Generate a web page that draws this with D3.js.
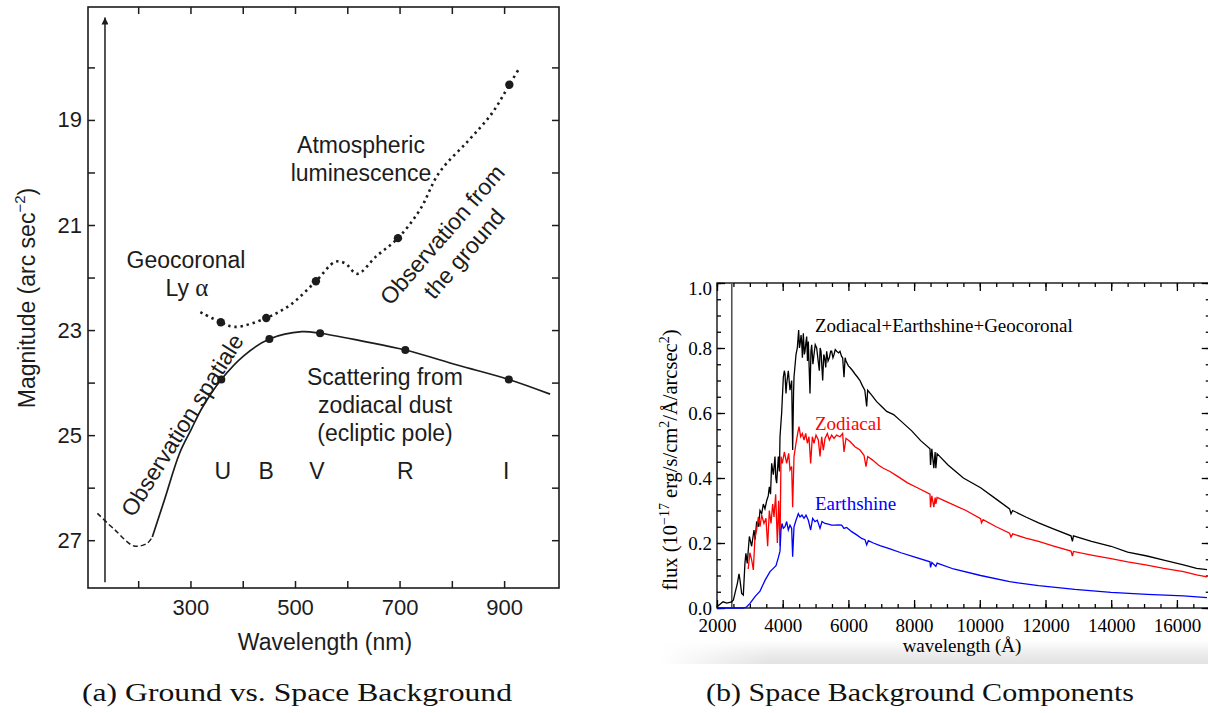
<!DOCTYPE html>
<html>
<head>
<meta charset="utf-8">
<script src="https://cdn.jsdelivr.net/npm/d3@7"></script>
<style>
body { margin: 0; background: #fff; }
svg { display: block; }
</style>
</head>
<body>
<div id="chart"></div>
<script>
const WIDTH = 1208, HEIGHT = 713;
const SANS = "'Liberation Sans', Arial, Helvetica, sans-serif";
const SERIF = "'Liberation Serif', 'Times New Roman', serif";
const INK = '#1c1c1c';
const TOTAL_COLOR = '#000000';
const ZODI_COLOR = '#ff0000';
const EARTH_COLOR = '#0000ff';

// ---- panel (a): ground vs space, wavelength (nm) / magnitude
const uvNm  = [122, 155, 192, 217, 227];
const uvMag = [26.49, 26.8, 27.11, 27.06, 26.94];
const spaceNm  = [227, 250, 279, 301, 323, 359, 403, 451, 513, 548, 629, 711, 812, 909, 988];
const spaceMag = [26.94, 26.24, 25.35, 24.9, 24.47, 23.94, 23.48, 23.17, 23.03, 23.06, 23.21, 23.38, 23.67, 23.94, 24.22];
const groundNm  = [319, 358, 385, 445, 491, 540, 577, 596, 619, 655, 697, 739, 776, 833, 877, 910, 927];
const groundMag = [22.66, 22.85, 22.94, 22.77, 22.52, 22.07, 21.7, 21.73, 21.93, 21.6, 21.25, 20.71, 20.0, 19.38, 18.87, 18.33, 18.05];
const spaceDotNm  = [359, 451, 548, 711, 909];
const spaceDotMag = [23.94, 23.17, 23.06, 23.38, 23.94];
const groundDotNm  = [358, 445, 540, 697, 910];
const groundDotMag = [22.85, 22.77, 22.07, 21.25, 18.33];
const bands = ['U', 'B', 'V', 'R', 'I'];
const bandNm = [362, 445, 542, 711, 904];
const magTicks = [18, 19, 20, 21, 22, 23, 24, 25, 26, 27];
const magLabels = [19, 21, 23, 25, 27];
const nmTicks = [200, 300, 400, 500, 600, 700, 800, 900];
const nmLabels = [300, 500, 700, 900];

// ---- panel (b): space background components, wavelength (A) / flux
const totalWave = [2000, 2100, 2183, 2300, 2447, 2500, 2548, 2620, 2670, 2700, 2751, 2801, 2852, 2880, 2920, 2985, 3055, 3126, 3160, 3207,
  3260, 3309, 3360, 3410, 3460, 3512, 3560, 3593, 3630, 3664, 3715, 3765, 3790, 3816, 3867, 3900, 3918, 3968, 4019, 4050,
  4070, 4100, 4121, 4171, 4222, 4273, 4303, 4330, 4344, 4405, 4445, 4486, 4510, 4527, 4560, 4577, 4600, 4628, 4660, 4679,
  4710, 4730, 4755, 4780, 4831, 4860, 4882, 4920, 4953, 4990, 5034, 5080, 5115, 5140, 5166, 5217, 5250, 5278, 5310, 5338,
  5380, 5420, 5460, 5490, 5530, 5562, 5600, 5643, 5700, 5744, 5790, 5825, 5866, 5900, 5927, 6000, 6049, 6130, 6201, 6280,
  6353, 6420, 6500, 6556, 6587, 6708, 6860, 7012, 7165, 7376, 7600, 7928, 8200, 8484, 8500, 8540, 8600, 8640, 8662, 8700,
  9032, 9500, 10025, 10500, 10907, 10950, 11000, 11400, 11790, 12200, 12776, 12820, 12850, 13400, 13994, 14500, 15090, 15600, 16200, 16600, 16917];
const totalFlux = [0.004, 0.012, 0.019, 0.015, 0.019, 0.025, 0.046, 0.076, 0.105, 0.086, 0.045, 0.04, 0.14, 0.168, 0.137, 0.22, 0.19, 0.24, 0.21, 0.266,
  0.25, 0.30, 0.29, 0.32, 0.305, 0.33, 0.345, 0.373, 0.35, 0.445, 0.41, 0.466, 0.40, 0.384, 0.466, 0.42, 0.527, 0.60, 0.71, 0.73,
  0.72, 0.66, 0.69, 0.73, 0.67, 0.70, 0.486, 0.66, 0.71, 0.78, 0.80, 0.855, 0.80, 0.81, 0.84, 0.82, 0.77, 0.845, 0.78, 0.79,
  0.82, 0.835, 0.76, 0.82, 0.66, 0.79, 0.81, 0.75, 0.78, 0.81, 0.80, 0.76, 0.73, 0.80, 0.79, 0.70, 0.78, 0.77, 0.74, 0.79,
  0.76, 0.77, 0.79, 0.79, 0.77, 0.78, 0.795, 0.79, 0.785, 0.79, 0.775, 0.77, 0.71, 0.77, 0.76, 0.745, 0.74, 0.73, 0.72, 0.71,
  0.70, 0.685, 0.67, 0.62, 0.67, 0.655, 0.635, 0.62, 0.605, 0.595, 0.575, 0.545, 0.515, 0.49, 0.44, 0.49, 0.43, 0.48, 0.43, 0.475,
  0.44, 0.40, 0.37, 0.335, 0.305, 0.29, 0.30, 0.28, 0.262, 0.245, 0.222, 0.205, 0.222, 0.205, 0.19, 0.172, 0.16, 0.147, 0.133, 0.122, 0.118];

const zodiWave = [2950, 3000, 3055, 3106, 3157, 3207, 3258, 3309, 3360, 3430, 3491, 3542, 3593, 3644, 3695, 3735, 3786, 3837, 3877, 3918,
  3948, 3989, 4050, 4121, 4182, 4222, 4273, 4303, 4344, 4405, 4456, 4496, 4547, 4598, 4649, 4699, 4750, 4800, 4851, 4902,
  4953, 5014, 5085, 5136, 5186, 5237, 5288, 5359, 5420, 5490, 5562, 5643, 5744, 5825, 5866, 5927, 6049, 6201, 6353, 6475,
  6536, 6587, 6739, 6911, 7063, 7266, 7500, 7800, 8100, 8484, 8500, 8540, 8600, 8640, 8662, 8700, 9032, 9580, 10025, 10050,
  10100, 10500, 10907, 10950, 11000, 11400, 11790, 12200, 12776, 12820, 12850, 13400, 13994, 14500, 15090, 15600, 16200, 16600, 16917];
const zodiFlux = [0.12, 0.17, 0.148, 0.117, 0.22, 0.24, 0.28, 0.25, 0.286, 0.26, 0.276, 0.19, 0.30, 0.26, 0.32, 0.28, 0.35, 0.20, 0.33, 0.19,
  0.466, 0.445, 0.48, 0.445, 0.476, 0.425, 0.435, 0.31, 0.466, 0.507, 0.537, 0.558, 0.527, 0.537, 0.517, 0.537, 0.507, 0.527, 0.445, 0.527,
  0.507, 0.532, 0.517, 0.466, 0.527, 0.486, 0.522, 0.537, 0.517, 0.532, 0.522, 0.532, 0.527, 0.537, 0.48, 0.522, 0.512, 0.496, 0.486, 0.47,
  0.435, 0.466, 0.455, 0.44, 0.43, 0.42, 0.405, 0.385, 0.37, 0.35, 0.31, 0.345, 0.31, 0.34, 0.32, 0.34, 0.325, 0.30, 0.275, 0.262,
  0.272, 0.25, 0.23, 0.218, 0.228, 0.215, 0.205, 0.192, 0.175, 0.16, 0.174, 0.163, 0.152, 0.142, 0.132, 0.122, 0.112, 0.102, 0.096];

const earthWave = [2000, 2800, 2900, 3005, 3157, 3309, 3461, 3613, 3715, 3796, 3867, 3918, 3948, 3979, 4019, 4070, 4121, 4171, 4222, 4273,
  4303, 4344, 4405, 4476, 4527, 4587, 4649, 4709, 4780, 4851, 4912, 4983, 5054, 5136, 5196, 5288, 5389, 5490, 5592, 5693,
  5795, 5866, 5947, 6099, 6252, 6404, 6505, 6556, 6607, 6759, 6962, 7266, 7600, 8000, 8484, 8500, 8540, 8662, 8700, 9200,
  10025, 10907, 11790, 12892, 13994, 15090, 16200, 16917];
const earthFlux = [0, 0, 0.003, 0.014, 0.035, 0.052, 0.085, 0.112, 0.122, 0.13, 0.155, 0.175, 0.24, 0.26, 0.245, 0.25, 0.266, 0.24, 0.255, 0.245,
  0.158, 0.25, 0.27, 0.29, 0.28, 0.286, 0.276, 0.286, 0.27, 0.24, 0.276, 0.266, 0.27, 0.245, 0.266, 0.26, 0.258, 0.255, 0.255, 0.256,
  0.255, 0.245, 0.248, 0.235, 0.225, 0.214, 0.21, 0.194, 0.207, 0.2, 0.192, 0.182, 0.17, 0.157, 0.142, 0.125, 0.14, 0.128, 0.138, 0.12,
  0.10, 0.081, 0.069, 0.057, 0.048, 0.042, 0.037, 0.032];
const cutoffWave = 2450;
const fluxTicks = [0.0, 0.2, 0.4, 0.6, 0.8, 1.0];
const waveTicks = [2000, 4000, 6000, 8000, 10000, 12000, 14000, 16000];

const svg = d3.select("#chart")
    .append("svg")
    .attr("width", WIDTH)
    .attr("height", HEIGHT);

const defs = svg.append("defs");
defs.append("marker")
    .attr("id", "arrowUp")
    .attr("viewBox", "0 0 10 10")
    .attr("refX", 5).attr("refY", 0)
    .attr("markerWidth", 7).attr("markerHeight", 9)
    .attr("markerUnits", "userSpaceOnUse")
    .attr("orient", "0")
    .append("path")
    .attr("d", "M0,10 L5,0 L10,10 Z")
    .attr("fill", INK);
const shadeV = defs.append("linearGradient").attr("id", "shadeV")
    .attr("x1", 0).attr("y1", 0).attr("x2", 0).attr("y2", 1);
shadeV.append("stop").attr("offset", "0%").attr("stop-color", "#e6e6e6").attr("stop-opacity", 0);
shadeV.append("stop").attr("offset", "70%").attr("stop-color", "#e6e6e6").attr("stop-opacity", 0.9);
shadeV.append("stop").attr("offset", "100%").attr("stop-color", "#e2e2e2").attr("stop-opacity", 1);
const shadeH = defs.append("linearGradient").attr("id", "shadeH");
shadeH.append("stop").attr("offset", "0%").attr("stop-color", "#fff").attr("stop-opacity", 1);
shadeH.append("stop").attr("offset", "100%").attr("stop-color", "#fff").attr("stop-opacity", 0);

function zip(xs, ys) {
    return xs.map((x, i) => [x, ys[i]]);
}

// ================= panel (a)
const xa = d3.scaleLinear().domain([104, 1005]).range([88, 559]);
const ya = d3.scaleLinear().domain([16.85, 27.91]).range([7, 588]);
const ga = svg.append("g");

ga.append("rect")
    .attr("x", xa.range()[0]).attr("y", ya.range()[0])
    .attr("width", xa.range()[1] - xa.range()[0])
    .attr("height", ya.range()[1] - ya.range()[0])
    .attr("fill", "none").attr("stroke", INK).attr("stroke-width", 1.6);

function styleAxisA(g) {
    g.select(".domain").remove();
    g.selectAll(".tick line").attr("stroke", INK).attr("stroke-width", 1.5);
    g.selectAll(".tick text").attr("fill", INK);
    g.attr("font-family", SANS).attr("font-size", 22);
}
ga.append("g")
    .attr("transform", `translate(${xa.range()[0]},0)`)
    .call(d3.axisLeft(ya).tickValues(magTicks).tickSize(-7).tickPadding(6)
        .tickFormat(d => magLabels.includes(d) ? d : ""))
    .call(styleAxisA);
ga.append("g")
    .attr("transform", `translate(${xa.range()[1]},0)`)
    .call(d3.axisRight(ya).tickValues(magTicks).tickSize(-7).tickFormat(""))
    .call(styleAxisA);
ga.append("g")
    .attr("transform", `translate(0,${ya.range()[1]})`)
    .call(d3.axisBottom(xa).tickValues(nmTicks).tickSize(-7).tickPadding(11)
        .tickFormat(d => nmLabels.includes(d) ? d : ""))
    .call(styleAxisA);
ga.append("g")
    .attr("transform", `translate(0,${ya.range()[0]})`)
    .call(d3.axisTop(xa).tickValues(nmTicks).tickSize(-7).tickFormat(""))
    .call(styleAxisA);

// vertical arrow
ga.append("line")
    .attr("x1", xa(136.5)).attr("x2", xa(136.5))
    .attr("y1", ya(27.8)).attr("y2", ya(17.05))
    .attr("stroke", INK).attr("stroke-width", 1.5)
    .attr("marker-end", "url(#arrowUp)");

const lineA = d3.line().x(d => xa(d[0])).y(d => ya(d[1])).curve(d3.curveCatmullRom);
ga.append("path")
    .attr("d", lineA(zip(uvNm, uvMag)))
    .attr("fill", "none").attr("stroke", INK).attr("stroke-width", 1.5)
    .attr("stroke-dasharray", "5,3");
ga.append("path")
    .attr("d", lineA(zip(spaceNm, spaceMag)))
    .attr("fill", "none").attr("stroke", INK).attr("stroke-width", 1.7);
ga.append("path")
    .attr("d", lineA(zip(groundNm, groundMag)))
    .attr("fill", "none").attr("stroke", INK).attr("stroke-width", 2.6)
    .attr("stroke-dasharray", "2.4,3.8");

ga.selectAll("circle.space").data(zip(spaceDotNm, spaceDotMag)).enter()
    .append("circle").attr("class", "space")
    .attr("cx", d => xa(d[0])).attr("cy", d => ya(d[1])).attr("r", 4)
    .attr("fill", INK);
ga.selectAll("circle.ground").data(zip(groundDotNm, groundDotMag)).enter()
    .append("circle").attr("class", "ground")
    .attr("cx", d => xa(d[0])).attr("cy", d => ya(d[1])).attr("r", 4.2)
    .attr("fill", INK);

ga.selectAll("text.band").data(bands).enter()
    .append("text").attr("class", "band")
    .attr("x", (d, i) => xa(bandNm[i])).attr("y", ya(25.67))
    .attr("dy", "0.36em")
    .attr("text-anchor", "middle")
    .attr("font-family", SANS).attr("font-size", 23).attr("fill", INK)
    .text(d => d);

function multiLine(g, x, y, lines, lh) {
    let t = g.append("text")
        .attr("text-anchor", "middle")
        .attr("font-family", SANS).attr("font-size", 23).attr("fill", INK);
    lines.forEach((s, i) => {
        t.append("tspan").attr("x", x).attr("y", y + i * lh).attr("dy", "0.36em").text(s);
    });
    return t;
}
multiLine(ga, 361, 145, ["Atmospheric", "luminescence"], 28);
multiLine(ga, 385, 377, ["Scattering from", "zodiacal dust", "(ecliptic pole)"], 28);
multiLine(ga, 186, 260, ["Geocoronal"], 28);
let ly = ga.append("text")
    .attr("x", 187).attr("y", 288).attr("dy", "0.36em")
    .attr("text-anchor", "middle")
    .attr("font-family", SANS).attr("font-size", 23).attr("fill", INK);
ly.append("tspan").text("Ly ");
ly.append("tspan").attr("font-family", SERIF).attr("font-size", 25).text("α");

ga.append("text")
    .attr("transform", "translate(182,425) rotate(-58)")
    .attr("dy", "0.36em")
    .attr("text-anchor", "middle")
    .attr("font-family", SANS).attr("font-size", 23).attr("fill", INK)
    .text("Observation spatiale");
let grd = ga.append("g").attr("transform", "translate(453,244) rotate(-49)");
multiLine(grd, 0, -14.5, ["Observation from", "the ground"], 29);

ga.append("text")
    .attr("x", 325).attr("y", 642).attr("dy", "0.36em")
    .attr("text-anchor", "middle")
    .attr("font-family", SANS).attr("font-size", 23).attr("fill", INK)
    .text("Wavelength (nm)");
let ylabA = ga.append("text")
    .attr("transform", "translate(35,298) rotate(-90)")
    .attr("text-anchor", "middle")
    .attr("font-family", SANS).attr("font-size", 23).attr("fill", INK);
ylabA.append("tspan").text("Magnitude (arc sec");
ylabA.append("tspan").attr("font-size", 15).attr("dy", -10).text("−2");
ylabA.append("tspan").attr("dy", 10).text(")");

// ================= panel (b)
const xb = d3.scaleLinear().domain([2000, 17000]).range([717, 1209.75]);
const yb = d3.scaleLinear().domain([0, 1]).range([608, 283]);
const gb = svg.append("g");

// soft shadow under the plot image
gb.append("rect").attr("x", 660).attr("y", 640).attr("width", 548).attr("height", 24)
    .attr("fill", "url(#shadeV)");
gb.append("rect").attr("x", 660).attr("y", 640).attr("width", 110).attr("height", 24)
    .attr("fill", "url(#shadeH)");

function styleAxisB(g) {
    g.select(".domain").remove();
    g.selectAll(".tick line").attr("stroke", "#000").attr("stroke-width", 1.3);
    g.selectAll(".tick text").attr("fill", "#000");
    g.attr("font-family", SERIF).attr("font-size", 19);
}
const minorFlux = d3.range(0, 1.0001, 0.05);
const minorWave = d3.range(2000, 17001, 500);

gb.append("g").attr("transform", `translate(${xb.range()[0]},0)`)
    .call(d3.axisLeft(yb).tickValues(minorFlux).tickSize(-4).tickFormat("")).call(styleAxisB);
gb.append("g").attr("transform", `translate(${xb.range()[1]},0)`)
    .call(d3.axisRight(yb).tickValues(minorFlux).tickSize(-4).tickFormat("")).call(styleAxisB);
gb.append("g").attr("transform", `translate(0,${yb.range()[0]})`)
    .call(d3.axisBottom(xb).tickValues(minorWave).tickSize(-4).tickFormat("")).call(styleAxisB);
gb.append("g").attr("transform", `translate(0,${yb.range()[1]})`)
    .call(d3.axisTop(xb).tickValues(minorWave).tickSize(-4).tickFormat("")).call(styleAxisB);

const leftB = gb.append("g").attr("transform", `translate(${xb.range()[0]},0)`)
    .call(d3.axisLeft(yb).tickValues(fluxTicks).tickSize(-8).tickPadding(5).tickFormat(d3.format(".1f")))
    .call(styleAxisB);
leftB.selectAll(".tick text").filter(d => d === 1).attr("dy", "0.62em");
gb.append("g").attr("transform", `translate(${xb.range()[1]},0)`)
    .call(d3.axisRight(yb).tickValues(fluxTicks).tickSize(-8).tickFormat("")).call(styleAxisB);
gb.append("g").attr("transform", `translate(0,${yb.range()[0]})`)
    .call(d3.axisBottom(xb).tickValues(waveTicks).tickSize(-8).tickPadding(11).tickFormat(d3.format("d")))
    .call(styleAxisB);
gb.append("g").attr("transform", `translate(0,${yb.range()[1]})`)
    .call(d3.axisTop(xb).tickValues(waveTicks).tickSize(-8).tickFormat("")).call(styleAxisB);

// frame
gb.append("rect")
    .attr("x", xb.range()[0]).attr("y", yb.range()[1])
    .attr("width", xb.range()[1] - xb.range()[0])
    .attr("height", yb.range()[0] - yb.range()[1])
    .attr("fill", "none").attr("stroke", "#000").attr("stroke-width", 1.3);

gb.append("line")
    .attr("x1", xb(cutoffWave)).attr("x2", xb(cutoffWave))
    .attr("y1", yb(0)).attr("y2", yb(1))
    .attr("stroke", "#555").attr("stroke-width", 1.6);

const lineB = d3.line().x(d => xb(d[0])).y(d => yb(d[1]));
gb.append("path").attr("d", lineB(zip(totalWave, totalFlux)))
    .attr("fill", "none").attr("stroke", TOTAL_COLOR).attr("stroke-width", 1.3);
gb.append("path").attr("d", lineB(zip(zodiWave, zodiFlux)))
    .attr("fill", "none").attr("stroke", ZODI_COLOR).attr("stroke-width", 1.3);
gb.append("path").attr("d", lineB(zip(earthWave, earthFlux)))
    .attr("fill", "none").attr("stroke", EARTH_COLOR).attr("stroke-width", 1.3);

gb.append("text").attr("x", 815).attr("y", 326).attr("dy", "0.33em")
    .attr("font-family", SERIF).attr("font-size", 19).attr("fill", TOTAL_COLOR)
    .text("Zodiacal+Earthshine+Geocoronal");
gb.append("text").attr("x", 815).attr("y", 424).attr("dy", "0.33em")
    .attr("font-family", SERIF).attr("font-size", 19).attr("fill", ZODI_COLOR)
    .text("Zodiacal");
gb.append("text").attr("x", 815).attr("y", 504).attr("dy", "0.33em")
    .attr("font-family", SERIF).attr("font-size", 19).attr("fill", EARTH_COLOR)
    .text("Earthshine");

gb.append("text").attr("x", 962).attr("y", 652)
    .attr("text-anchor", "middle")
    .attr("font-family", SERIF).attr("font-size", 19).attr("fill", "#000")
    .text("wavelength (Å)");
let ylabB = gb.append("text")
    .attr("transform", "translate(677,460) rotate(-90)")
    .attr("text-anchor", "middle")
    .attr("font-family", SERIF).attr("font-size", 20.5).attr("fill", "#000");
ylabB.append("tspan").text("flux (10");
ylabB.append("tspan").attr("font-size", 14).attr("dy", -8).text("−17");
ylabB.append("tspan").attr("dy", 8).text(" erg/s/cm");
ylabB.append("tspan").attr("font-size", 14).attr("dy", -8).text("2");
ylabB.append("tspan").attr("dy", 8).text("/Å/arcsec");
ylabB.append("tspan").attr("font-size", 14).attr("dy", -8).text("2");
ylabB.append("tspan").attr("dy", 8).text(")");

// ================= captions
svg.append("text").attr("x", 297).attr("y", 701)
    .attr("text-anchor", "middle")
    .attr("font-family", SERIF).attr("font-size", 26).attr("fill", "#111")
    .attr("textLength", 430).attr("lengthAdjust", "spacingAndGlyphs")
    .text("(a) Ground vs. Space Background");
svg.append("text").attr("x", 920).attr("y", 701)
    .attr("text-anchor", "middle")
    .attr("font-family", SERIF).attr("font-size", 26).attr("fill", "#111")
    .attr("textLength", 428).attr("lengthAdjust", "spacingAndGlyphs")
    .text("(b) Space Background Components");
</script>
</body>
</html>
